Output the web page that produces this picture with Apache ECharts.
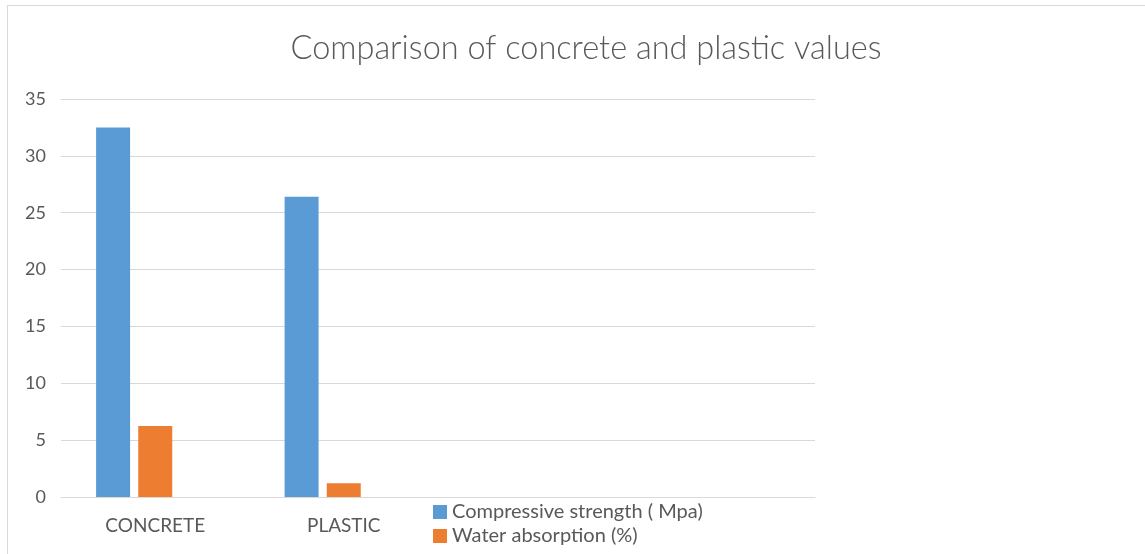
<!DOCTYPE html>
<html>
<head>
<meta charset="utf-8">
<script src="https://cdn.jsdelivr.net/npm/echarts@6/dist/echarts.min.js"></script>
<style>
  html, body { margin: 0; padding: 0; background: #fff; }
  #main { width: 1145px; height: 554px; position: relative; }
  #frame { position: absolute; left: 7px; top: 5px; width: 1150px; height: 560px; border: 1px solid #d9d9d9; box-sizing: border-box; pointer-events: none; }
</style>
</head>
<body>
<div id="main"></div>
<div id="frame"></div>
<script>
var categories = ['CONCRETE', 'PLASTIC', '', ''];
var strength = [32.5, 26.4, null, null];
var absorption = [6.25, 1.2, null, null];
var spare = [null, null, null, null];
var seriesNames = ['Compressive strength ( Mpa)', 'Water absorption (%)'];
var yTicks = { min: 0, max: 35, interval: 5 };

var textColor = '#595959';
var font = 'Lato';

// one legend per row, so the bottom-clipped block stays stacked
function legendRow(name, top) {
    return {
        left: 433,
        top: top,
        padding: 0,
        itemWidth: 14,
        itemHeight: 14,
        itemGap: 6,
        icon: 'rect',
        data: [name],
        textStyle: { fontFamily: font, fontSize: 20, color: textColor }
    };
}

var chart = echarts.init(document.getElementById('main'));
var option = {
    animation: false,
    title: {
        text: 'Comparison of concrete and plastic values',
        left: 581,
        top: 27,
        textAlign: 'center',
        textStyle: { fontFamily: font, fontWeight: 300, fontSize: 32.5, color: textColor }
    },
    legend: [legendRow(seriesNames[0], 502), legendRow(seriesNames[1], 526)],
    grid: { left: 61, right: 330, top: 99, bottom: 57 },
    xAxis: {
        type: 'category',
        data: categories,
        axisTick: { show: false },
        axisLine: { lineStyle: { color: '#d9d9d9', width: 1 } },
        axisLabel: { fontFamily: font, fontSize: 19, color: textColor, margin: 19 }
    },
    yAxis: {
        type: 'value',
        min: yTicks.min,
        max: yTicks.max,
        interval: yTicks.interval,
        axisLine: { show: false },
        axisTick: { show: false },
        splitLine: { lineStyle: { color: '#d9d9d9', width: 1 } },
        axisLabel: { fontFamily: font, fontSize: 18, color: textColor, margin: 15 }
    },
    series: [
        { name: seriesNames[0], type: 'bar', data: strength, barWidth: 34, barGap: '24%',
          itemStyle: { color: '#5b9bd5' } },
        { name: seriesNames[1], type: 'bar', data: absorption, barWidth: 34, barGap: '24%',
          itemStyle: { color: '#ed7d31' } },
        { name: 'spare', type: 'bar', data: spare, barWidth: 34, barGap: '24%',
          itemStyle: { color: '#a5a5a5' } }
    ]
};
chart.setOption(option);
</script>
</body>
</html>
